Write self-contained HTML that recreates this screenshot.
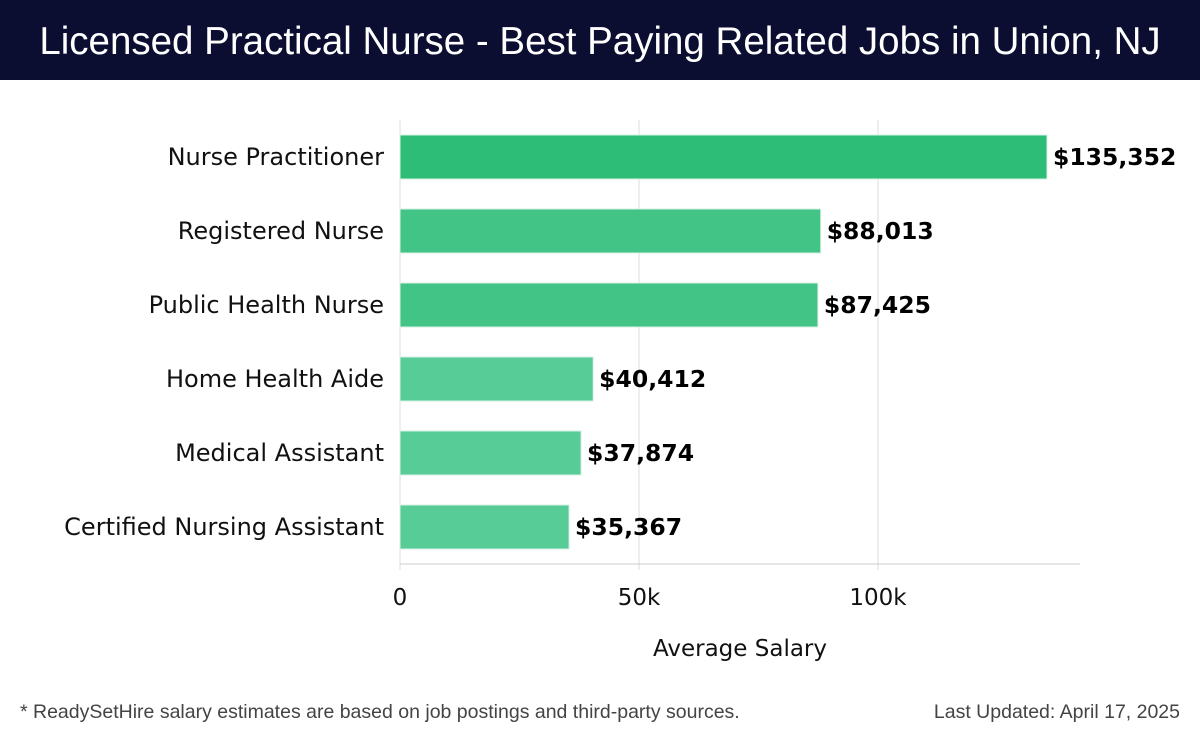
<!DOCTYPE html>
<html><head><meta charset="utf-8"><style>
body{margin:0;width:1200px;height:740px;background:#fff;overflow:hidden;font-family:"DejaVu Sans","Liberation Sans",sans-serif}
#hdr{position:absolute;left:0;top:0;width:1200px;height:80px;background:#0b0d31;color:#fff;font-family:"Liberation Sans",sans-serif;font-size:38.5px;text-align:center;line-height:84px}
.foot{position:absolute;top:701px;font-family:"Liberation Sans",sans-serif;font-size:19.5px;color:#444}
</style></head><body>
<div id="hdr">Licensed Practical Nurse - Best Paying Related Jobs in Union, NJ</div>
<svg id="chart" width="1200" height="700" style="position:absolute;left:0;top:0"></svg>
<div class="foot" style="left:20px">* ReadySetHire salary estimates are based on job postings and third-party sources.</div>
<div class="foot" style="right:20px">Last Updated: April 17, 2025</div>
<script>
const categories=["Nurse Practitioner","Registered Nurse","Public Health Nurse","Home Health Aide","Medical Assistant","Certified Nursing Assistant"];
const salaries=[135352,88013,87425,40412,37874,35367];
const colors=["#2dbd77","#42c487","#42c487","#57cc97","#57cc97","#57cc97"];
const ticks=[0,50000,100000];
const tickLabels=["0","50k","100k"];
const svg=document.getElementById('chart');
const NS='http://www.w3.org/2000/svg';
const x0=400,pxPer=478/100000,y0=120,step=74,bh=44;
const xs=v=>x0+v*pxPer;
const ys=i=>y0+i*step+(step-bh)/2;
function mk(t,a,txt){const e=document.createElementNS(NS,t);for(const k in a)e.setAttribute(k,a[k]);if(txt!=null)e.textContent=txt;svg.appendChild(e);return e;}
ticks.forEach((t,i)=>{
 const g=mk('line',{x1:xs(t),x2:xs(t),y1:120,y2:570,stroke:'#ddd','stroke-width':1});
 
 
 const l=mk('text',{x:xs(t),y:605,'text-anchor':'middle','font-size':23,fill:'#111'},tickLabels[i]);
 
 
});
const ax=mk('line',{x1:400,x2:1080,y1:564,y2:564,stroke:'#ccc','stroke-width':1});


const at=mk('text',{x:740,y:656,'text-anchor':'middle','font-size':23,fill:'#111'},'Average Salary');


categories.forEach((c,i)=>{
 const y=ys(i);
 const r=mk('rect',{x:x0,y:y,width:xs(salaries[i])-x0,height:bh,fill:colors[i],stroke:'#d5f0e3','stroke-width':1});
 
 
 const l=mk('text',{x:384,y:y+bh/2+8,'text-anchor':'end','font-size':24,fill:'#111'},c);
 
 
 const v=mk('text',{x:xs(salaries[i])+6,y:y+bh/2+8,'font-size':23.5,'font-weight':'bold',fill:'#000'},'$'+salaries[i].toLocaleString('en-US'));
 
 
});
</script>
</body></html>
